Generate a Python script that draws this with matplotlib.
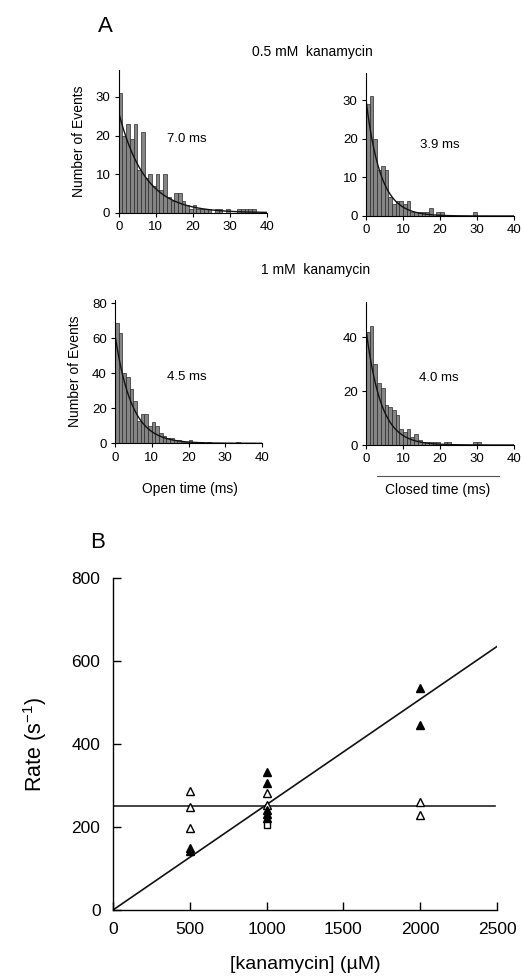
import numpy as np
import matplotlib
matplotlib.use("Agg")
import matplotlib.pyplot as plt

plt.rcParams['font.family'] = ['Liberation Sans', 'DejaVu Sans']

# ---------------- Panel A data (1 ms bins) ----------------
bin_width = 1.0
open_05 = [31, 20, 23, 19, 23, 11, 21, 9, 10, 7, 10, 6, 10, 4, 3, 5, 5, 3, 2, 1,
           2, 1, 1, 1, 1, 0, 1, 1, 0, 1, 0, 0, 1, 1, 1, 1, 1, 0, 0, 0]
closed_05 = [29, 31, 20, 12, 13, 12, 5, 3, 4, 4, 3, 4, 1, 1, 1, 1, 1, 2, 0, 1,
             1, 0, 0, 0, 0, 0, 0, 0, 0, 1, 0, 0, 0, 0, 0, 0, 0, 0, 0, 0]
open_1 = [69, 63, 40, 38, 31, 24, 13, 17, 17, 10, 12, 10, 6, 4, 3, 3, 2, 2, 1, 1,
          2, 1, 1, 1, 0, 1, 0, 0, 0, 0, 0, 0, 0, 1, 0, 0, 0, 0, 0, 0]
closed_1 = [42, 44, 30, 23, 21, 15, 14, 13, 11, 6, 5, 6, 3, 4, 2, 1, 1, 1, 1, 1,
            0, 1, 1, 0, 0, 0, 0, 0, 0, 1, 1, 0, 0, 0, 0, 0, 0, 0, 0, 0]

# exponential fits: amplitude (events at t=0) and time constant (ms)
fit_amp = [26, 30, 62, 43]
fit_tau = [7.0, 3.9, 4.5, 4.0]
tau_labels = ["7.0 ms", "3.9 ms", "4.5 ms", "4.0 ms"]

# ---------------- Panel B data ----------------
open_tri_x = [500, 500, 500, 1000, 1000, 2000, 2000]
open_tri_y = [287, 249, 198, 283, 253, 261, 229]
filled_tri_x = [500, 500, 1000, 1000, 1000, 1000, 1000, 2000, 2000]
filled_tri_y = [150, 141, 333, 307, 241, 231, 221, 534, 446]
open_sq_x = [1000]
open_sq_y = [205]
slope_fit = 0.254      # s^-1 per uM
const_fit = 250        # s^-1

W, H = 522, 977
fig = plt.figure(figsize=(W / 100, H / 100), dpi=100)


def rect(left, right, top, bottom):
    return [left / W, 1 - bottom / H, (right - left) / W, (bottom - top) / H]


hist_specs = [
    (open_05, rect(118.7, 266.7, 70, 212.7), 37, [0, 10, 20, 30]),
    (closed_05, rect(366, 514, 73, 216), 37, [0, 10, 20, 30]),
    (open_1, rect(115, 262, 300, 443.3), 82, [0, 20, 40, 60, 80]),
    (closed_1, rect(366, 514, 302, 445), 53, [0, 20, 40]),
]
label_pos = [(18.5, 19), (20, 18.3), (19.6, 38), (19.7, 24.7)]

hist_axes = []
for i, (counts, pos, ytop, yt) in enumerate(hist_specs):
    ax = fig.add_axes(pos)
    edges = np.arange(len(counts)) * bin_width
    ax.bar(edges, counts, width=bin_width, align='edge',
           color='#858585', edgecolor='#2a2a2a', linewidth=0.5)
    t = np.linspace(0, 40, 300)
    ax.plot(t, fit_amp[i] * np.exp(-t / fit_tau[i]), color='#111111', lw=1.0)
    ax.set_xlim(0, 40)
    ax.set_ylim(0, ytop)
    ax.set_xticks([0, 10, 20, 30, 40])
    ax.set_yticks(yt)
    for s in ['top', 'right']:
        ax.spines[s].set_visible(False)
    for s in ['left', 'bottom']:
        ax.spines[s].set_linewidth(0.8)
    ax.tick_params(direction='out', length=3, width=0.8, labelsize=9.5, pad=3)
    ax.text(label_pos[i][0], label_pos[i][1], tau_labels[i], fontsize=9.5,
            ha='center', va='center')
    hist_axes.append(ax)

hist_axes[0].set_ylabel("Number of Events", fontsize=10, labelpad=7)
hist_axes[2].set_ylabel("Number of Events", fontsize=10, labelpad=7)

fig.text(105 / W, 1 - 27 / H, "A", fontsize=16, ha='center', va='center')
fig.text(312 / W, 1 - 52 / H, "0.5 mM  kanamycin", fontsize=10, ha='center', va='center')
fig.text(316 / W, 1 - 270 / H, "1 mM  kanamycin", fontsize=10, ha='center', va='center')
fig.text(190 / W, 1 - 489 / H, "Open time (ms)", fontsize=10, ha='center', va='center')
fig.text(438 / W, 1 - 490 / H, "Closed time (ms)", fontsize=10, ha='center', va='center')
fig.add_artist(plt.Line2D([377 / W, 499 / W], [1 - 476 / H, 1 - 476 / H],
                          color='#555555', lw=0.8))

# ---------------- Panel B ----------------
axb = fig.add_axes(rect(113, 497, 578, 910))
xs = np.array([0, 2500])
axb.plot(xs, slope_fit * xs, color='#111111', lw=1.2)
axb.plot([0, 2490], [const_fit, const_fit], color='#222222', lw=1.2)
axb.plot(open_tri_x, open_tri_y, linestyle='none', marker='^', markersize=6,
         markerfacecolor='white', markeredgecolor='black', markeredgewidth=1.0)
axb.plot(filled_tri_x, filled_tri_y, linestyle='none', marker='^', markersize=6,
         markerfacecolor='black', markeredgecolor='black')
axb.plot(open_sq_x, open_sq_y, linestyle='none', marker='s', markersize=5,
         markerfacecolor='white', markeredgecolor='black', markeredgewidth=1.0)
axb.set_xlim(0, 2500)
axb.set_ylim(0, 800)
axb.set_xticks([0, 500, 1000, 1500, 2000, 2500])
axb.set_yticks([0, 200, 400, 600, 800])
for s in ['top', 'right']:
    axb.spines[s].set_visible(False)
for s in ['left', 'bottom']:
    axb.spines[s].set_linewidth(1.0)
axb.tick_params(direction='in', length=6, width=1.0, labelsize=12.5, pad=9)
axb.set_xlabel("[kanamycin] (µM)", fontsize=14, labelpad=13)
axb.set_ylabel("Rate (s$^{\\mathregular{-1}}$)", fontsize=15.5, labelpad=16)
fig.text(98 / W, 1 - 542 / H, "B", fontsize=16, ha='center', va='center')

fig.savefig("out.png", dpi=100)
